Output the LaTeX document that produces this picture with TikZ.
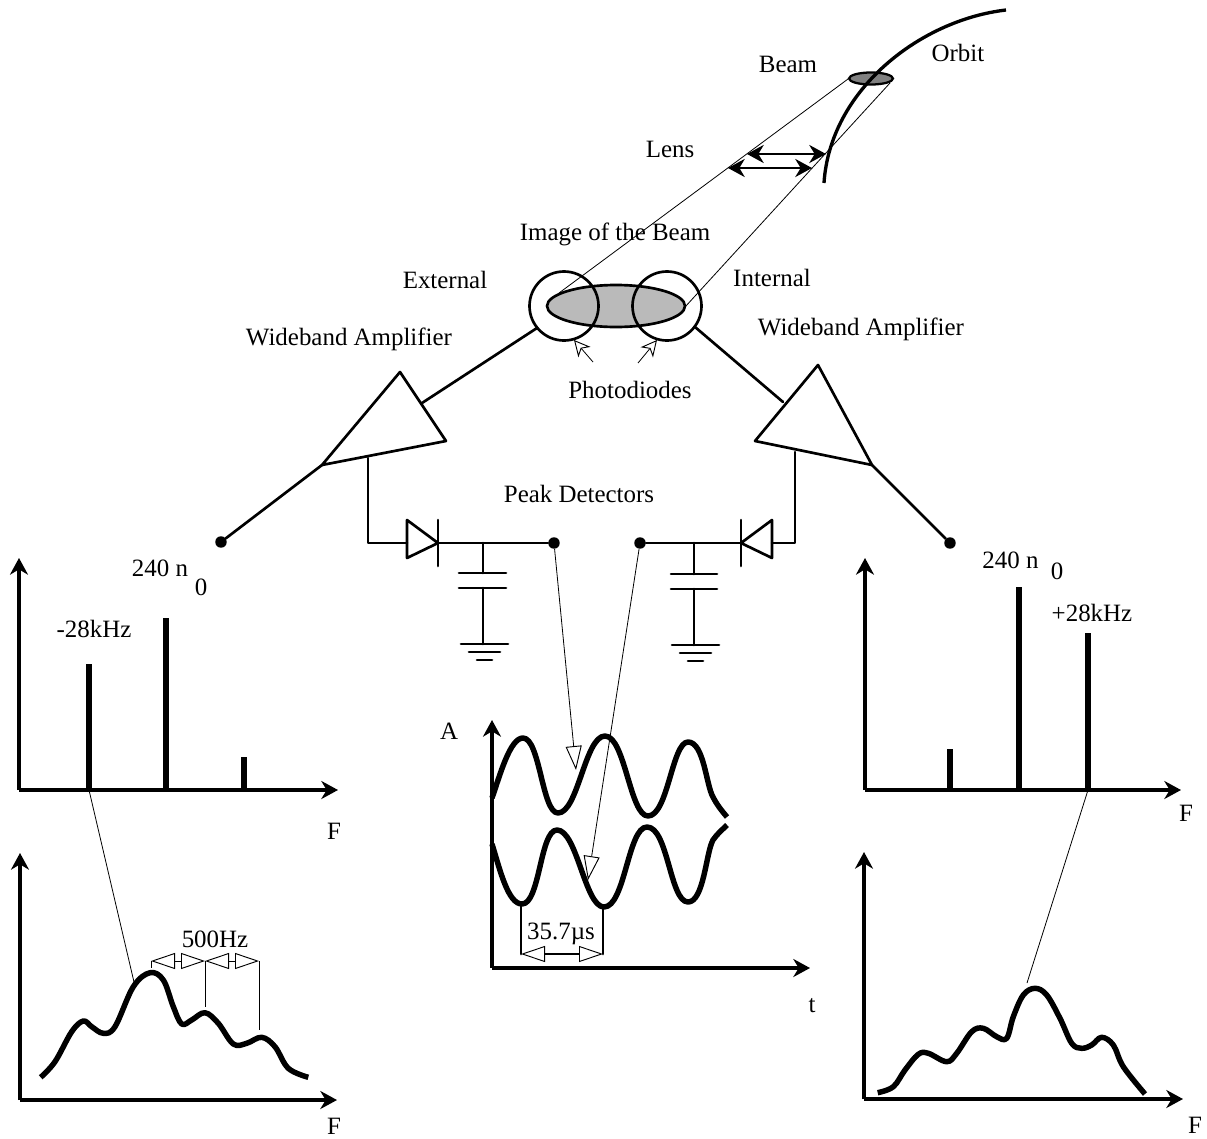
\documentclass[tikz,border=0pt]{standalone}
\usepackage{fontspec}
\setmainfont{Liberation Serif}
\usetikzlibrary{arrows.meta}
\tikzset{
  wire/.style={line width=2pt,line cap=round,line join=round},
  thinl/.style={line width=0.6pt},
  axisl/.style={line width=2.4pt,-{Stealth[length=12.5pt,width=13.5pt,inset=4pt]}},
  lensl/.style={line width=2.2pt,{Stealth[length=12.5pt,width=13.5pt,inset=4pt]}-{Stealth[length=12.5pt,width=13.5pt,inset=4pt]}},
  barl/.style={line width=3.8pt},
  curvel/.style={line width=4.1pt,line join=round},
  openhead/.style={thinl,-{Triangle[open,fill=white,length=18pt,width=12pt,line width=0.7pt]}},
  openboth/.style={{Triangle[open,fill=white,length=18pt,width=12pt,line width=0.7pt]}-{Triangle[open,fill=white,length=18pt,width=12pt,line width=0.7pt]}},
  pdarrow/.style={thinl,-{Stealth[open,fill=white,length=12pt,width=12pt,inset=3.5pt,line width=0.7pt]}},
  lab/.style={inner sep=0pt,text height=12.5pt,text depth=0pt,font=\fontsize{18.7}{22}\selectfont},
  dotn/.style={circle,fill=black,inner sep=0pt,minimum size=8.6pt},
}
\begin{document}
\begin{tikzpicture}[x=0.75pt,y=-0.75pt]
\useasboundingbox (0,0) rectangle (1207,1139);
% named points
\coordinate (beamL) at (848,79);
\coordinate (beamR) at (890,83);
\coordinate (imgL) at (559,293);
\coordinate (imgR) at (685,307);
\coordinate (lensTL) at (747,154);
\coordinate (lensTR) at (826,154);
\coordinate (lensBL) at (728,168);
\coordinate (lensBR) at (812,168);
% image of the beam
\fill[black!27] (616,306) ellipse [x radius=69,y radius=21];
% thin rays
\draw[thinl] (beamL) -- (imgL);
\draw[thinl] (beamR) -- (imgR);
% beam and orbit
\draw[line width=1.7pt,fill=black!50] (871,78.5) ellipse [x radius=22,y radius=6];
\draw[line width=2.5pt] (1006,10) .. controls (920,20) and (830,90) .. (824,183);
% lens
\draw[lensl] (lensTL) -- (lensTR);
\draw[lensl] (lensBL) -- (lensBR);
% ellipse outline and photodiodes
\draw[wire] (616,306) ellipse [x radius=69,y radius=21];
\draw[wire] (564,306) circle [radius=34.5];
\draw[wire] (667,306) circle [radius=34.5];
\coordinate (pd1a) at (593,362); \coordinate (pd1b) at (574,340);
\coordinate (pd2a) at (638,363); \coordinate (pd2b) at (657,340);
\draw[pdarrow] (pd1a) -- (pd1b);
\draw[pdarrow] (pd2a) -- (pd2b);
% amplifiers
\coordinate (la1) at (400,372); \coordinate (la2) at (446,441); \coordinate (la3) at (322,465);
\coordinate (ra1) at (818,365); \coordinate (ra2) at (755,441); \coordinate (ra3) at (872,465);
\draw[wire] (la1) -- (la2) -- (la3) -- cycle;
\draw[wire] (ra1) -- (ra2) -- (ra3) -- cycle;
\coordinate (cl) at (537,328); \coordinate (al) at (422,403);
\coordinate (cr) at (695,327); \coordinate (ar) at (783,402);
\draw[wire] (cl) -- (al);
\draw[wire] (cr) -- (ar);
% outputs
\node[dotn] (dotL) at (221,542) {};
\node[dotn] (dotR) at (950,543) {};
\draw[wire] (la3) -- (dotL);
\draw[wire] (ra3) -- (dotR);
% peak detectors left
\coordinate (lf) at (368,458); \coordinate (lc) at (368,543); \coordinate (ldb) at (407,543); \coordinate (ldt) at (438,543);
\coordinate (lcap) at (483,543);
\node[dotn] (dotPL) at (554,543) {};
\draw[wire] (lf) -- (lc) -- (ldb);
\draw[wire] (407,520) -- (407,558) -- (ldt) -- cycle;
\draw[wire] (438,520) -- (438,566);
\draw[wire] (ldt) -- (dotPL);
\draw[wire] (lcap) -- (483,573);
\draw[wire] (459,573) -- (506,573);
\draw[wire] (459,588) -- (506,588);
\draw[wire] (483,588) -- (483,644);
\draw[wire] (461,644) -- (508,644);
\draw[wire] (469,652) -- (500,652);
\draw[wire] (477,660) -- (492,660);
% peak detectors right
\coordinate (rf) at (795,452); \coordinate (rc) at (795,543); \coordinate (rdb) at (772,543); \coordinate (rdt) at (741,543);
\coordinate (rcap) at (694,543);
\node[dotn] (dotPR) at (640,543) {};
\draw[wire] (rf) -- (rc) -- (rdb);
\draw[wire] (772,520) -- (772,558) -- (rdt) -- cycle;
\draw[wire] (741,520) -- (741,566);
\draw[wire] (rdt) -- (dotPR);
\draw[wire] (rcap) -- (694,574);
\draw[wire] (671,574) -- (717,574);
\draw[wire] (671,589) -- (717,589);
\draw[wire] (694,589) -- (694,645);
\draw[wire] (672,645) -- (719,645);
\draw[wire] (680,653) -- (711,653);
\draw[wire] (688,661) -- (703,661);
% centre plot
\draw[axisl] (492,968) -- (492,720);
\draw[axisl] (492,968) -- (810,968);
\draw[curvel] (492,798) .. controls (500,775) and (510,738) .. (523,738)
  .. controls (540,738) and (542,813) .. (558,813)
  .. controls (578,813) and (585,736) .. (605,736)
  .. controls (625,736) and (630,816) .. (648,816)
  .. controls (668,816) and (672,742) .. (688,742)
  .. controls (704,742) and (706,785) .. (713,797)
  .. controls (717,805) and (722,811) .. (727,817);
\draw[curvel] (492,844) .. controls (500,870) and (508,904) .. (522,904)
  .. controls (540,904) and (540,830) .. (557,830)
  .. controls (577,830) and (585,907) .. (604,907)
  .. controls (625,907) and (628,827) .. (647,827)
  .. controls (668,827) and (670,902) .. (688,902)
  .. controls (704,902) and (706,852) .. (713,840)
  .. controls (717,834) and (722,830) .. (727,825);
\coordinate (tipA) at (576,770); \coordinate (tipB) at (588,880);
\draw[openhead] (dotPL) -- (tipA);
\draw[openhead] (dotPR) -- (tipB);
\coordinate (d1) at (521,954); \coordinate (d2) at (603,954);
\draw[wire] (521,905) -- (d1);
\draw[wire] (603,907) -- (d2);
\draw[line width=1.9pt,openboth] (d1) -- (d2);
% left spectrum
\draw[axisl] (19,790) -- (19,558);
\draw[axisl] (19,790) -- (338,790);
\draw[barl] (89,790) -- (89,664);
\draw[barl] (166,790) -- (166,618);
\draw[barl] (244,790) -- (244,757);
% right spectrum
\draw[axisl] (865,790) -- (865,558);
\draw[axisl] (865,790) -- (1181,790);
\draw[barl] (950,790) -- (950,749);
\draw[barl] (1019,790) -- (1019,587);
\draw[barl] (1088,790) -- (1088,633);
% bottom left
\draw[axisl] (20,1100) -- (20,853);
\draw[axisl] (20,1100) -- (337,1100);
\coordinate (zl0) at (89,790); \coordinate (zl1) at (134,982);
\draw[thinl] (zl0) -- (zl1);
\draw[curvel] plot[smooth,tension=0.6] coordinates {(40.7,1077.3)(55,1061.7)(71.7,1031.7)(83.3,1021)(91.7,1026.7)(103.3,1033.3)(115,1026.7)(133.3,986.7)(150,972.7)(163.3,980)(173.3,1006.7)(181.7,1024)(191.7,1020)(205,1012.7)(218.3,1023.3)(233.3,1044)(246.7,1043.3)(261.7,1037.3)(275,1046.7)(288.3,1068.3)(308.3,1077.3)};
\coordinate (h1) at (151,961); \coordinate (h2) at (205,961); \coordinate (h3) at (259,961);
\draw[thinl] (h1) -- (151,968);
\draw[thinl] (h2) -- (205,1007);
\draw[thinl] (h3) -- (259,1030);
\draw[thinl,openboth] (h1) -- (h2);
\draw[thinl,openboth] (h2) -- (h3);
% bottom right
\draw[axisl] (864,1099) -- (864,852);
\draw[axisl] (864,1099) -- (1183,1099);
\coordinate (zr0) at (1088,790); \coordinate (zr1) at (1027,983);
\draw[thinl] (zr0) -- (zr1);
\draw[curvel] plot[smooth,tension=0.6] coordinates {(877.7,1092.7)(893.3,1086.7)(905,1070)(918.3,1054.3)(928.3,1053.3)(946.7,1061.7)(956.7,1053.3)(971.7,1031.7)(983.3,1028.3)(996.7,1036.7)(1006.7,1038.3)(1013.3,1016.7)(1023.3,995)(1035,988.3)(1046.7,995)(1060,1018.3)(1071.7,1043.3)(1081.7,1048.3)(1091.7,1045)(1101.7,1037.3)(1113.3,1045)(1123.3,1066.7)(1145,1094)};
% labels
\node[lab] (tBeam) at (788,64) {Beam};
\node[lab] (tOrbit) at (958,53) {Orbit};
\node[lab] (tLens) at (670,149) {Lens};
\node[lab] (tImage) at (615,232) {Image of the Beam};
\node[lab] (tExt) at (445,280) {External};
\node[lab] (tInt) at (772,278) {Internal};
\node[lab] (tWbL) at (349,337) {Wideband Amplifier};
\node[lab] (tWbR) at (861,327) {Wideband Amplifier};
\node[lab] (tPhoto) at (630,390) {Photodiodes};
\node[lab] (tPeak) at (579,494) {Peak Detectors};
\node[lab] (t240L) at (160,568) {240 n};
\node[lab] (t0L) at (201,587) {0};
\node[lab] (t28L) at (94,629) {-28kHz};
\node[lab] (t240R) at (1010.5,560) {240 n};
\node[lab] (t0R) at (1057,571) {0};
\node[lab] (t28R) at (1092,613) {+28kHz};
\node[lab] (tFL) at (334,831) {F};
\node[lab] (tFR) at (1186,813) {F};
\node[lab] (tFBL) at (334,1126) {F};
\node[lab] (tFBR) at (1195,1125) {F};
\node[lab] (tA) at (449,731) {A};
\node[lab] (tt) at (812,1004) {t};
\node[lab] (t500) at (215,939) {500Hz};
\node[lab] (t357) at (561,931) {35.7µs};
\end{tikzpicture}
\end{document}
